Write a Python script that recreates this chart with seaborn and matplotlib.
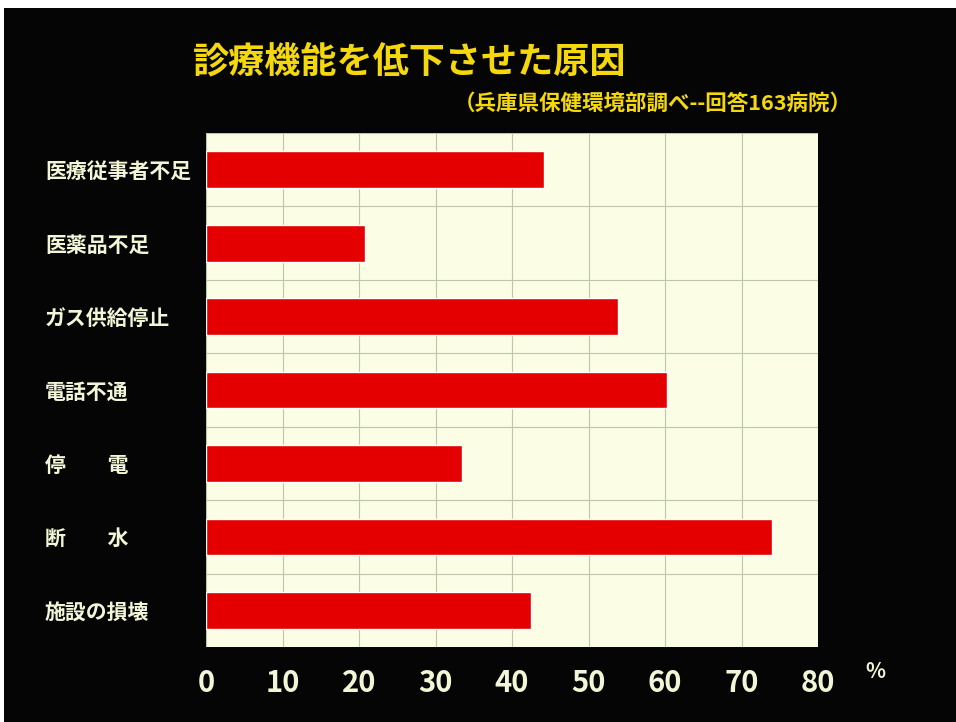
import matplotlib
matplotlib.use('Agg')
import matplotlib.pyplot as plt
from matplotlib.patches import Rectangle
import seaborn as sns
import pandas as pd
import numpy as np

# data
causes = ['医療従事者不足', '医薬品不足', 'ガス供給停止', '電話不通', '停　　電', '断　　水', '施設の損壊']
percent = [44.2, 20.8, 53.8, 60.2, 33.4, 74.0, 42.5]
xticks = [0, 10, 20, 30, 40, 50, 60, 70, 80]

title = '診療機能を低下させた原因'
subtitle = '（兵庫県保健環境部調べ--回答163病院）'

sns.set_theme(style='white')
plt.rcParams['font.family'] = ['Noto Sans CJK JP', 'DejaVu Sans']

df = pd.DataFrame({'cause': causes, 'pct': percent})

fig = plt.figure(figsize=(9.56, 7.22), dpi=100, facecolor='white')
# black slide area (white scanner border top/left)
fig.patches.append(Rectangle((4 / 956, 0), 1, 1 - 8 / 722, transform=fig.transFigure,
                             facecolor='#050505', edgecolor='none', zorder=0))

ax = fig.add_axes([206 / 956, 75 / 722, 612 / 956, 514 / 722])
ax.set_zorder(2)
ax.set_facecolor('#fbfee4')

sns.barplot(data=df, x='pct', y='cause', color='#e50000', saturation=1,
            width=0.5, ax=ax, zorder=3)

ax.set_xlim(0, 80)
ax.set_ylim(len(causes) - 0.5, -0.5)
ax.set_xticks(xticks)
ax.set_xticklabels([str(t) for t in xticks])
ax.set_yticks(np.arange(len(causes)) - 0.5, minor=True)
ax.grid(True, axis='x', color='#bcc6a8', linewidth=0.8, zorder=0)
ax.grid(True, axis='y', which='minor', color='#bcc6a8', linewidth=0.8, zorder=0)
ax.set_axisbelow(True)
for s in ax.spines.values():
    s.set_visible(False)

ax.set_xlabel('')
ax.set_ylabel('')
ax.tick_params(axis='x', length=0, pad=15, labelsize=21, labelcolor='#f2f6d6')
ax.tick_params(axis='y', which='both', length=0, pad=116, labelsize=15, labelcolor='#f2f6d6')
for lab in ax.get_yticklabels():
    lab.set_ha('left')
    lab.set_fontweight('bold')
for lab in ax.get_xticklabels():
    lab.set_fontweight('bold')

ax.text(1.093, -0.028, '%', transform=ax.transAxes, color='#f2f6d6', fontsize=15,
        fontweight='bold', ha='center', va='top')

fig.text(193 / 956, 1 - 62 / 722, title, color='#f4d80c', fontsize=26,
         fontweight='bold', ha='left', va='center')
fig.text(852 / 956, 1 - 103 / 722, subtitle, color='#f4d80c', fontsize=15.5,
         fontweight='bold', ha='right', va='center')

fig.savefig('out.png', dpi=100, facecolor=fig.get_facecolor())
